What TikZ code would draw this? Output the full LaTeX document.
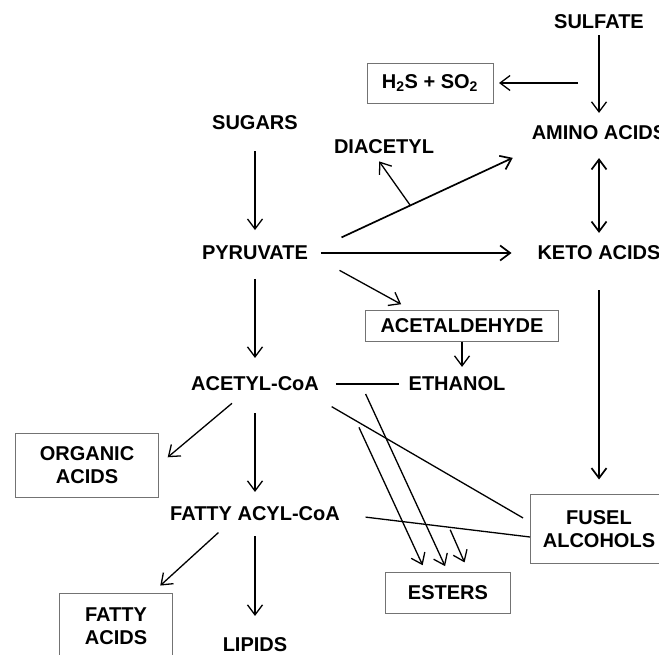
\documentclass[tikz,border=0pt]{standalone}
\usepackage{fontspec}
\setmainfont{Liberation Sans}
\usetikzlibrary{arrows.meta}
\usetikzlibrary{calc}

\begin{document}
\begin{tikzpicture}[x=1pt, y=-1pt,
        every node/.style={font=\fontsize{20}{23}\selectfont\bfseries},
        chem/.style={inner sep=0pt, outer sep=0pt},
        chembox/.style={draw=black!55, line width=0.8pt, align=center, inner sep=0pt, outer sep=0pt},
        arr/.style={-{Straight Barb[length=10pt,width=15pt]}, line width=1.3pt},
        heavy/.style={arr, line width=1.7pt},
        biarr/.style={{Straight Barb[length=10pt,width=15pt]}-{Straight Barb[length=10pt,width=15pt]}, line width=1.7pt},
        bond/.style={line width=1.3pt}]
            \useasboundingbox (0,0) rectangle (659,655);

            % compounds
            \node (sulf) at (599,22) [chem] {SULFATE};
            \node (amino) at (599,133) [chem] {AMINO ACIDS};
            \node (keto) at (599,253) [chem] {KETO ACIDS};
            \node (h2s) at (430,83) [chembox, minimum width=126pt, minimum height=40pt] {H\textsubscript{2}S + SO\textsubscript{2}};
            \node (sug) at (255,123) [chem] {SUGARS};
            \node (diac) at (384,147) [chem] {DIACETYL};
            \node (pyr) at (255,253) [chem] {PYRUVATE};
            \node (acald) at (462,326) [chembox, minimum width=193pt, minimum height=31pt] {ACETALDEHYDE};
            \node (acetyl) at (255,384) [chem] {ACETYL-CoA};
            \node (ethanol) at (457,384) [chem] {ETHANOL};
            \node (orgac) at (87,465) [chembox, minimum width=143pt, minimum height=64pt] {ORGANIC\\ACIDS};
            \node (fatty) at (255,514) [chem] {FATTY ACYL-CoA};
            \node (fusel) at (599,529) [chembox, minimum width=138pt, minimum height=69pt] {FUSEL\\ALCOHOLS};
            \node (esters) at (448,593) [chembox, minimum width=125pt, minimum height=41pt] {ESTERS};
            \node (fattyac) at (116,626) [chembox, minimum width=113pt, minimum height=66pt] {FATTY\\ACIDS};
            \node (lipids) at (255,645) [chem] {LIPIDS};

            % branch points
            \coordinate (sfork) at (578,83);
            \coordinate (dfork) at (410,205);
            \coordinate (aefork) at (361,384);
            \coordinate (affork) at (356,421);
            \coordinate (fffork) at (449,527);

            % main chain
            \draw[arr, shorten <=21pt, shorten >=16pt] (sug) -- (pyr);
            \draw[arr, shorten <=19pt, shorten >=19pt] (pyr) -- (acetyl);
            \draw[arr, shorten <=22pt, shorten >=15pt] (acetyl) -- (fatty);
            \draw[arr, shorten <=15pt, shorten >=22pt] (fatty) -- (lipids);
            \draw[arr, shorten <=19pt, shorten >=12pt] (acetyl) -- (orgac.east);
            \draw[arr, shorten <=17pt, shorten >=11pt] ($(fatty.south)+(-24,0)$) -- (fattyac);

            % sulfur and amino acids
            \draw[arr, shorten <=6pt, shorten >=13pt] (sulf) -- (amino);
            \draw[arr, shorten >=6pt] (sfork) -- (h2s);
            \draw[biarr, shorten <=18pt, shorten >=13pt] (amino) -- (keto);
            \draw[heavy, shorten <=30pt, shorten >=15pt] (keto) -- (fusel);

            % pyruvate branches
            \draw[heavy, shorten <=37pt, shorten >=21pt] (pyr.east) -- ($(amino.west)+(0,16)$);
            \draw[arr, shorten >=9pt] (dfork) -- ($(diac.south)+(-10,0)$);
            \draw[heavy, shorten <=13pt, shorten >=26pt] (pyr) -- (keto);
            \draw[arr, shorten <=36pt, shorten >=13pt] (pyr.east) -- ($(acald.north west)+(47,0)$);
            \draw[arr, shorten >=10pt] (acald.south) -- (acald.south |- ethanol.north);
            \draw[bond, shorten <=17pt, shorten >=10pt] (acetyl) -- (ethanol);

            % esters and fusel alcohols
            \draw[bond, shorten <=31pt, shorten >=8pt] ($(acetyl.south east)+(-14,0)$) -- ($(fusel.west)+(0,-7)$);
            \draw[bond, shorten <=26pt] (fatty.east) -- ($(fusel.west)+(0,8)$);
            \draw[arr, shorten <=11pt, shorten >=7pt] (aefork) -- (esters.north);
            \draw[arr, shorten <=7pt, shorten >=8pt] (affork) -- ($(esters.north)+(-22,0)$);
            \draw[arr, shorten <=3pt, shorten >=11pt] (fffork) -- ($(esters.north)+(21,0)$);
        \end{tikzpicture}
\end{document}
